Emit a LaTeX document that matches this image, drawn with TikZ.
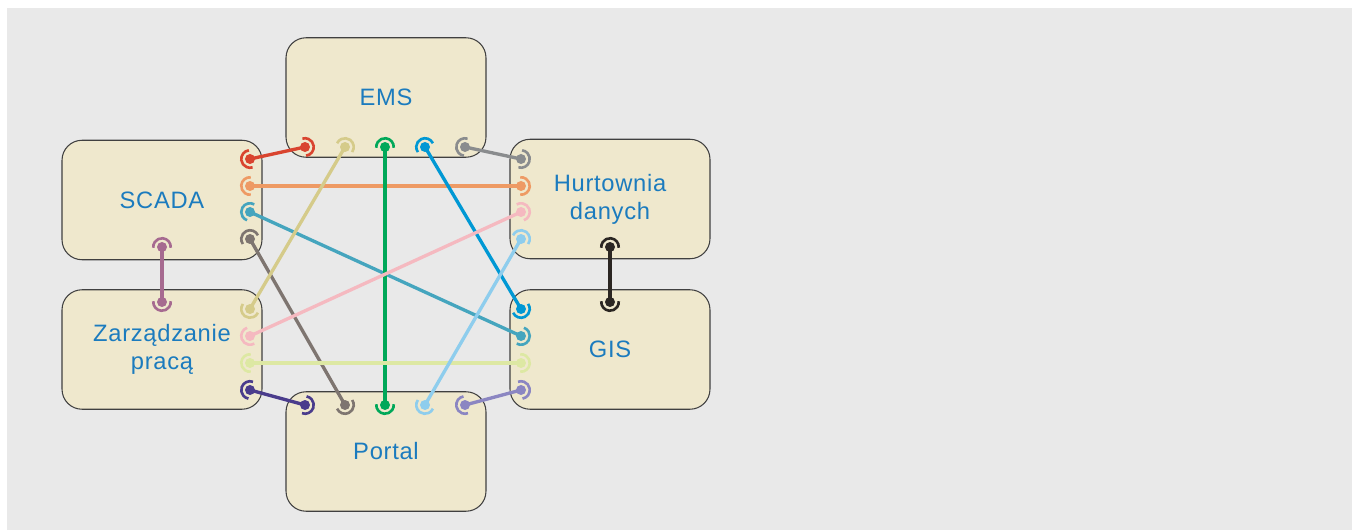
\documentclass[tikz,border=0pt]{standalone}
\usepackage{fontspec}
\setmainfont[LetterSpace=3]{Liberation Sans}
\usetikzlibrary{calc}

\definecolor{bggray}{HTML}{E9E9E9}
\definecolor{boxfill}{HTML}{EFE8CD}
\definecolor{boxtext}{HTML}{1B7BBE}
\definecolor{cred}{HTML}{D9442F}
\definecolor{corange}{HTML}{EE9A64}
\definecolor{cteal}{HTML}{45A5BE}
\definecolor{ctaupe}{HTML}{7E7570}
\definecolor{cmauve}{HTML}{A66A90}
\definecolor{ckhaki}{HTML}{D5CB8A}
\definecolor{cgreen}{HTML}{00A859}
\definecolor{cblue}{HTML}{0098D4}
\definecolor{cgray}{HTML}{8A8C8E}
\definecolor{cpink}{HTML}{F5B9C0}
\definecolor{clgreen}{HTML}{DDE8A3}
\definecolor{cindigo}{HTML}{4A3C8C}
\definecolor{clblue}{HTML}{8ECDED}
\definecolor{clavender}{HTML}{8B86C2}
\definecolor{cblack}{HTML}{2B2622}

\tikzset{
  box/.style={draw=black!75, line width=0.6pt, fill=boxfill, rounded corners=0.4cm,
    minimum width=4cm, minimum height=2.39cm, align=center, text=boxtext,
    font=\fontsize{13.5}{16}\selectfont},
  wire/.style={draw=#1, line width=1.9pt}
}
\def\socketend#1#2#3{%
  \fill[#1] (#2) circle (0.1cm);
  \draw[#1, line width=1.5pt] let \p1=($(#2)-(#3)$), \n1={atan2(\y1,\x1)} in
    ($(#2)+(\n1-95:0.175cm)$) arc[start angle=\n1-95, end angle=\n1+95, radius=0.175cm];}
\def\socketlink#1#2#3{%
  \draw[wire=#1] (#2) -- (#3);
  \socketend{#1}{#2}{#3}\socketend{#1}{#3}{#2}}

\begin{document}
\begin{tikzpicture}[x=0.02cm, y=-0.02cm]
			%%%%% START %%%%%
			
			\useasboundingbox (0, 0) rectangle (1352, 530);
			\fill[bggray] (7, 8) rectangle (1352, 530);
			
			\node[box] (ems) at (386, 97.5) {EMS};
			\node[box] (scada) at (162, 200) {SCADA};
			\node[box] (hurt) at (610, 199) {Hurtownia\\danych};
			\node[box] (zarz) at (162, 349.5) {Zarządzanie\\pracą};
			\node[box] (gis) at (610, 349.5) {GIS};
			\node[box] (portal) at (386, 451.5) {Portal};
			
			% EMS, bottom row
			\coordinate (ems1) at (305, 147);
			\coordinate (ems2) at (345, 147);
			\coordinate (ems3) at (385, 147);
			\coordinate (ems4) at (425, 147);
			\coordinate (ems5) at (465, 147);
			
			% SCADA, right column
			\coordinate (scada1) at (250, 159);
			\coordinate (scada2) at (250, 186);
			\coordinate (scada3) at (250, 212);
			\coordinate (scada4) at (250, 239);
			\coordinate (scada5) at (162, 247);
			
			% Zarzadzanie praca
			\coordinate (zarz0) at (162, 302);
			\coordinate (zarz1) at (250, 309);
			\coordinate (zarz2) at (250, 336);
			\coordinate (zarz3) at (250, 363);
			\coordinate (zarz4) at (250, 390);
			
			% Hurtownia danych, left column
			\coordinate (hurt1) at (521, 159);
			\coordinate (hurt2) at (521, 186);
			\coordinate (hurt3) at (521, 212);
			\coordinate (hurt4) at (521, 239);
			\coordinate (hurt5) at (610, 247);
			
			% GIS, left column
			\coordinate (gis0) at (610, 302);
			\coordinate (gis1) at (521, 309);
			\coordinate (gis2) at (521, 336);
			\coordinate (gis3) at (521, 363);
			\coordinate (gis4) at (521, 390);
			
			% Portal, top row
			\coordinate (portal1) at (305, 405);
			\coordinate (portal2) at (345, 405);
			\coordinate (portal3) at (385, 405);
			\coordinate (portal4) at (425, 405);
			\coordinate (portal5) at (465, 405);
			
			\socketlink{cred}{scada1}{ems1}
			\socketlink{corange}{scada2}{hurt2}
			\socketlink{cteal}{scada3}{gis2}
			\socketlink{ctaupe}{scada4}{portal2}
			\socketlink{cmauve}{scada5}{zarz0}
			\socketlink{ckhaki}{ems2}{zarz1}
			\socketlink{cgreen}{ems3}{portal3}
			\socketlink{cblue}{ems4}{gis1}
			\socketlink{cgray}{ems5}{hurt1}
			\socketlink{cpink}{zarz2}{hurt3}
			\socketlink{clgreen}{zarz3}{gis3}
			\socketlink{cindigo}{zarz4}{portal1}
			\socketlink{clblue}{hurt4}{portal4}
			\socketlink{clavender}{gis4}{portal5}
			\socketlink{cblack}{hurt5}{gis0}
			
			%%%%% END %%%%%
\end{tikzpicture}
\end{document}
